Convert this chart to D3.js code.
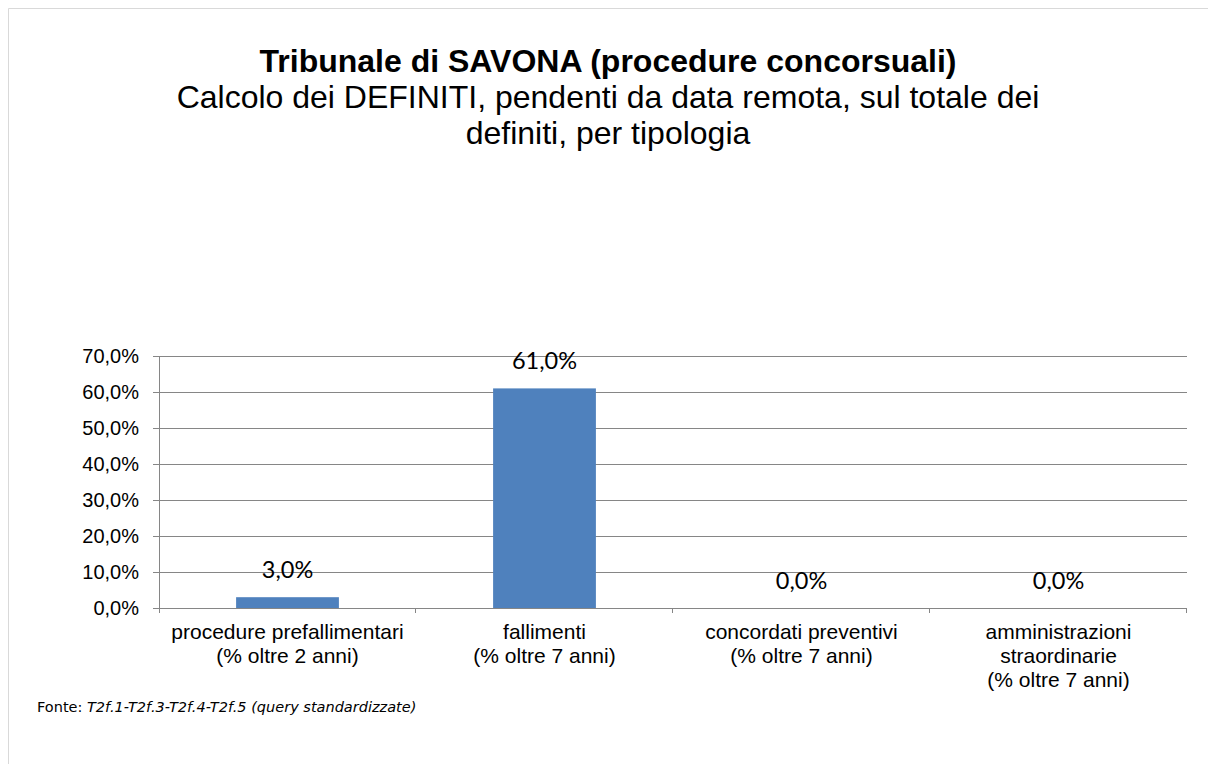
<!DOCTYPE html>
<html>
<head>
<meta charset="utf-8">
<script src="https://cdn.jsdelivr.net/npm/d3@7"></script>
<style>
  body { margin: 0; background: #fff; }
  svg { display: block; }
</style>
</head>
<body>
<div class="vis"></div>
<script>
const categories = [
    ['procedure prefallimentari', '(% oltre 2 anni)'],
    ['fallimenti', '(% oltre 7 anni)'],
    ['concordati preventivi', '(% oltre 7 anni)'],
    ['amministrazioni', 'straordinarie', '(% oltre 7 anni)']
];
const values = [3.0, 61.0, 0.0, 0.0];
const yTicks = [0, 10, 20, 30, 40, 50, 60, 70];
const titleLines = ['Tribunale di SAVONA (procedure concorsuali)'];
const subtitleLines = ['Calcolo dei DEFINITI, pendenti da data remota, sul totale dei', 'definiti, per tipologia'];

const W = 1208, H = 764;
const margin = {top: 356, right: 21, bottom: 156, left: 159};
const width = W - margin.left - margin.right;
const height = H - margin.top - margin.bottom;
const fmt = v => v.toFixed(1).replace('.', ',') + '%';

const root = d3.select('.vis').append('svg')
    .attr('width', W)
    .attr('height', H);

// outer frame
root.append('path')
    .attr('d', 'M8.5,' + H + 'V8.5H' + W)
    .attr('fill', 'none')
    .attr('stroke', '#d9d9d9');

// titles
root.append('text')
    .attr('x', 608).attr('y', 72)
    .attr('text-anchor', 'middle')
    .style('font-family', 'Liberation Sans, Arial, sans-serif')
    .style('font-size', '32px')
    .style('font-weight', 'bold')
    .text(titleLines[0]);
subtitleLines.forEach((t, i) => {
    root.append('text')
        .attr('x', 608).attr('y', 108 + i * 36)
        .attr('text-anchor', 'middle')
        .style('font-family', 'Liberation Sans, Arial, sans-serif')
        .style('font-size', '32px')
        .text(t);
});

const svg = root.append('g')
    .attr('transform', 'translate(' + margin.left + ',' + margin.top + ')');

const x = d3.scaleBand()
    .domain(d3.range(categories.length))
    .range([0, width])
    .paddingInner(0.6)
    .paddingOuter(0.3);
const xEdge = d3.scaleLinear().domain([0, categories.length]).range([0, width]);
const y = d3.scaleLinear().domain([0, 70]).range([height, 0]);

// gridlines + y axis
const yAxis = svg.append('g')
    .call(d3.axisLeft(y).tickValues(yTicks).tickSize(-width).tickPadding(20).tickFormat(fmt));
yAxis.select('.domain').remove();
yAxis.selectAll('.tick line')
    .attr('x1', -6)
    .attr('stroke', '#868686');
yAxis.selectAll('.tick text')
    .attr('fill', '#000')
    .style('font-family', 'Liberation Sans, Arial, sans-serif')
    .style('font-size', '20px');

// left axis line
svg.append('line')
    .attr('x1', 0.5).attr('x2', 0.5)
    .attr('y1', 0).attr('y2', height + 5)
    .attr('stroke', '#868686');

// bottom axis line and category separators
svg.append('line')
    .attr('x1', 0).attr('x2', width)
    .attr('y1', height + 0.5).attr('y2', height + 0.5)
    .attr('stroke', '#868686');
svg.selectAll('.sep')
    .data(d3.range(1, categories.length + 1))
    .enter().append('line')
    .attr('class', 'sep')
    .attr('x1', d => Math.round(xEdge(d)) - 0.5)
    .attr('x2', d => Math.round(xEdge(d)) - 0.5)
    .attr('y1', height)
    .attr('y2', height + 5)
    .attr('stroke', '#868686');

// bars
svg.selectAll('.bar')
    .data(values)
    .enter().append('rect')
    .attr('class', 'bar')
    .attr('x', (d, i) => x(i))
    .attr('width', x.bandwidth())
    .attr('y', d => y(d))
    .attr('height', d => height - y(d))
    .attr('fill', '#4f81bd');

// data labels
svg.selectAll('.lbl')
    .data(values)
    .enter().append('text')
    .attr('class', 'lbl')
    .attr('x', (d, i) => x(i) + x.bandwidth() / 2)
    .attr('y', d => y(d) - 19)
    .attr('text-anchor', 'middle')
    .style('font-family', 'Lato, Carlito, sans-serif')
    .style('font-size', '23.5px')
    .text(fmt);

// category labels
categories.forEach((lines, i) => {
    const t = svg.append('text')
        .attr('text-anchor', 'middle')
        .style('font-family', 'Liberation Sans, Arial, sans-serif')
        .style('font-size', '21px');
    lines.forEach((l, j) => {
        t.append('tspan')
            .attr('x', x(i) + x.bandwidth() / 2)
            .attr('y', height + 31 + j * 24)
            .text(l);
    });
});

// source note
const src = root.append('text')
    .attr('x', 37).attr('y', 712)
    .style('font-family', 'DejaVu Sans, Verdana, sans-serif')
    .style('font-size', '14.5px');
src.append('tspan').text('Fonte: ');
src.append('tspan').style('font-style', 'italic').text('T2f.1-T2f.3-T2f.4-T2f.5 (query standardizzate)');
</script>
</body>
</html>
